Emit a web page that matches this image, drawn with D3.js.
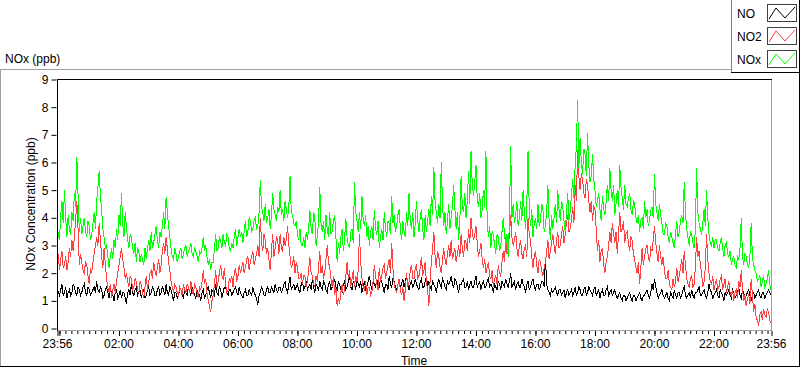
<!DOCTYPE html>
<html>
<head>
<meta charset="utf-8">
<script src="https://cdn.jsdelivr.net/npm/d3@7"></script>
<style>
  html, body { margin: 0; padding: 0; background: #fff; }
  svg { display: block; }
  text { font-family: "Liberation Sans", Arial, sans-serif; font-size: 12px; fill: #000; }
</style>
</head>
<body>
<svg id="chart" width="800" height="369"></svg>
<script>
// ---- Data ----
// "...Values" arrays: samples every 5 min starting 23:56 (previous day).
// "...Half" arrays: samples taken half-way (2.5 min) after each of those.
const seriesNames = ["NO", "NO2", "NOx"];
const seriesColors = ["#000000", "#ff4040", "#00ff00"];
const startClock = [23, 56];
const stepMinutes = 5;
const yTickValues = [0, 1, 2, 3, 4, 5, 6, 7, 8, 9];
const xLabelTimes = ["23:56", "02:00", "04:00", "06:00", "08:00", "10:00", "12:00",
                     "14:00", "16:00", "18:00", "20:00", "22:00", "23:56"];

const noValues = [
1.5,1.2,1.6,1.3,1.1,1.4,1.3,1.5,1.2,1.4,
1.3,1.6,1.2,1.4,1.3,1.5,1.7,1.3,1.4,1.2,
1.5,1.1,1.3,1.0,1.4,1.2,1.1,1.3,0.9,1.4,
1.6,1.2,1.5,1.3,1.1,1.4,1.2,1.5,1.3,1.4,
1.2,1.5,1.3,1.4,1.6,1.2,1.4,1.0,1.3,1.2,
1.4,1.1,1.3,1.5,1.2,1.4,1.1,1.3,1.0,1.4,
1.2,1.5,1.1,1.3,1.6,1.2,1.4,1.3,1.5,1.2,
1.4,1.3,1.5,1.2,1.3,1.1,1.4,1.2,1.3,1.5,
1.2,0.85,1.3,1.4,1.2,1.5,1.3,1.4,1.6,1.3,
1.5,1.4,1.7,1.3,1.85,1.5,1.4,1.6,1.3,1.7,
1.5,1.4,1.6,1.8,1.3,1.5,1.7,1.4,1.6,1.3,
1.7,1.5,1.8,1.4,1.6,1.3,1.7,1.5,1.9,1.4,
1.6,1.8,1.5,1.3,1.7,1.5,1.9,1.4,1.6,1.8,
1.5,1.7,1.3,1.6,1.9,1.5,1.7,1.4,1.8,1.6,
1.5,1.9,1.4,1.7,1.6,1.6,1.4,1.8,1.5,1.9,
1.7,1.4,1.6,1.3,1.8,1.5,1.7,1.4,1.6,1.9,
1.5,1.7,1.3,1.6,1.8,1.5,1.4,1.7,1.5,1.9,
1.6,1.4,1.7,1.5,1.8,1.6,1.3,1.5,1.7,1.4,
1.6,1.8,1.5,2.0,1.6,1.4,1.7,1.5,1.6,1.3,
1.7,1.5,1.8,1.4,1.6,1.5,1.7,2.6,1.4,1.2,
1.3,1.5,1.2,1.4,1.3,1.1,1.4,1.3,1.2,1.5,
1.3,1.4,1.2,1.5,1.3,1.4,1.2,1.5,1.3,1.1,
1.4,1.2,1.5,1.3,1.2,1.4,1.1,1.3,1.0,1.2,
1.1,1.3,1.0,1.2,1.1,1.3,1.0,1.2,1.4,1.1,
1.6,1.8,1.3,1.2,1.4,1.1,1.3,1.0,1.2,1.4,
1.1,1.3,1.2,1.5,1.1,1.3,1.4,1.1,1.3,1.5,
1.2,1.4,1.1,1.6,1.3,1.2,1.4,1.1,1.3,1.0,
1.2,1.4,1.1,1.3,1.2,1.5,1.1,1.3,1.2,1.4,
1.0,1.3,1.2,1.4,1.1,1.3,1.2,1.4,1.2
];
const noHalf = [
1.3,1.4,1.2,1.5,1.3,1.2,1.6,1.3,1.5,1.2,
1.5,1.3,1.5,1.2,1.4,1.3,1.4,1.5,1.1,1.4,
1.3,1.4,1.2,1.3,1.1,1.4,1.3,1.1,1.3,1.2,
1.3,1.4,1.2,1.4,1.3,1.1,1.4,1.2,1.5,1.2,
1.4,1.2,1.5,1.2,1.3,1.5,1.2,1.3,1.1,1.4,
1.2,1.4,1.2,1.3,1.5,1.2,1.4,1.2,1.3,1.1,
1.4,1.3,1.4,1.2,1.3,1.5,1.1,1.5,1.3,1.4,
1.2,1.4,1.3,1.5,1.2,1.3,1.2,1.4,1.2,1.3,
1.1,1.2,1.5,1.2,1.4,1.3,1.5,1.3,1.4,1.5,
1.3,1.6,1.4,1.6,1.4,1.6,1.5,1.4,1.6,1.4,
1.7,1.5,1.4,1.5,1.6,1.4,1.5,1.7,1.4,1.6,
1.4,1.6,1.5,1.7,1.4,1.6,1.4,1.7,1.5,1.7,
1.4,1.6,1.7,1.5,1.4,1.7,1.6,1.7,1.5,1.5,
1.8,1.5,1.6,1.4,1.6,1.8,1.5,1.6,1.5,1.8,
1.7,1.6,1.6,1.5,1.8,1.5,1.7,1.5,1.7,1.5,
1.5,1.7,1.5,1.6,1.6,1.8,1.5,1.7,1.7,1.6,
1.8,1.5,1.6,1.7,1.5,1.7,1.6,1.5,1.7,1.5,
1.7,1.6,1.5,1.7,1.5,1.5,1.6,1.4,1.6,1.7,
1.5,1.6,1.7,1.5,1.7,1.6,1.5,1.8,1.5,1.6,
1.4,1.7,1.5,1.6,1.4,1.7,1.5,1.6,1.3,1.4,
1.4,1.3,1.4,1.2,1.4,1.3,1.2,1.4,1.3,1.2,
1.5,1.2,1.4,1.2,1.5,1.3,1.4,1.2,1.4,1.3,
1.2,1.4,1.2,1.4,1.3,1.2,1.2,1.1,1.2,1.0,
1.2,1.1,1.2,1.0,1.2,1.1,1.2,1.3,1.2,1.3,
1.4,1.5,1.1,1.3,1.2,1.2,1.1,1.3,1.1,1.2,
1.3,1.1,1.4,1.2,1.2,1.1,1.2,1.3,1.4,1.2,
1.3,1.2,1.3,1.4,1.1,1.3,1.2,1.4,1.2,1.3,
1.3,1.2,1.4,1.1,1.3,1.2,1.4,1.1,1.3,1.2,
1.2,1.1,1.3,1.2,1.3,1.1,1.3,1.3
];

const no2Values = [
2.4,2.1,2.8,2.3,2.1,2.9,3.2,3.3,4.6,2.3,
2.4,2.0,2.3,1.6,2.0,2.7,3.3,3.8,2.6,2.9,
1.8,1.3,1.1,1.6,1.7,2.3,2.9,2.2,2.0,1.5,
1.8,1.5,1.7,1.3,1.6,1.1,1.9,1.7,2.1,2.4,
1.9,2.5,2.3,3.1,3.3,2.4,1.7,1.3,1.5,1.2,
1.4,1.6,1.3,1.5,1.7,1.2,1.5,1.1,1.4,2.1,
1.8,1.0,0.6,1.2,2.1,1.7,2.3,1.8,1.6,1.4,
1.7,1.5,2.2,1.9,2.0,2.4,2.2,2.6,2.4,2.8,
2.5,3.0,4.0,2.8,3.2,2.9,2.1,3.4,2.9,3.2,
3.4,2.8,3.0,3.7,2.6,2.3,2.0,2.2,1.8,1.6,
1.9,1.7,2.6,1.9,1.5,1.7,2.8,2.3,2.0,3.0,
2.2,1.5,1.2,0.8,0.9,1.6,1.4,2.4,2.1,1.8,
1.5,1.7,3.4,1.8,1.4,1.2,1.5,1.3,2.3,1.6,
2.2,1.9,2.3,2.0,2.5,3.1,1.6,1.3,1.8,1.2,
1.0,2.0,1.7,2.3,1.8,2.3,1.9,2.6,2.1,1.7,
0.8,2.4,3.5,2.2,2.6,2.0,2.9,2.3,3.0,3.2,
2.7,2.4,3.0,3.4,2.6,3.1,3.6,4.0,3.2,3.7,
2.6,3.1,2.2,2.0,2.4,1.8,1.5,1.9,2.3,1.9,
2.8,3.3,2.9,4.1,3.0,3.5,2.6,3.2,2.5,3.0,
4.0,3.2,2.2,2.8,2.0,2.4,1.9,2.4,3.2,2.8,
3.4,2.7,3.5,3.0,3.7,3.4,4.1,3.6,4.4,5.2,
6.45,5.0,5.4,4.7,5.2,4.2,3.9,4.3,2.8,2.4,
2.9,2.0,2.6,3.5,3.8,3.1,2.7,4.2,3.6,3.1,
3.5,2.8,3.2,2.5,2.0,1.6,2.9,2.6,3.0,2.4,
2.8,3.7,2.7,3.0,2.3,2.1,1.8,1.6,1.4,1.5,
2.2,1.9,2.5,2.8,1.8,1.5,1.9,1.6,3.3,2.8,
2.0,1.7,3.4,2.0,1.6,1.4,1.8,1.5,1.9,1.6,
1.3,1.7,1.2,1.0,1.4,1.7,2.1,1.0,0.8,1.2,
1.8,0.6,0.4,0.1,0.6,0.7,0.4,0.6,0.2
];
const no2Half = [
2.7,2.5,2.2,2.6,2.4,2.6,2.8,3.9,3.6,2.7,
2.1,2.4,1.9,2.2,2.4,3.0,3.0,3.2,2.2,2.3,
1.5,1.6,1.4,1.3,2.0,2.6,2.5,1.8,1.7,1.9,
1.4,1.8,1.4,1.7,1.3,1.5,1.4,2.0,1.8,2.1,
2.2,2.0,2.8,2.7,2.9,2.1,1.5,1.6,1.3,1.5,
1.2,1.4,1.6,1.3,1.4,1.6,1.3,1.5,1.7,1.6,
1.3,0.8,1.0,1.6,1.5,2.0,1.9,2.2,1.3,1.8,
1.9,2.0,1.7,2.3,2.2,2.0,2.5,2.1,2.6,2.3,
2.7,2.6,3.1,3.4,2.7,2.5,2.8,2.6,3.3,2.7,
2.9,3.3,3.2,3.0,2.2,2.6,2.4,1.8,2.0,1.9,
1.5,2.1,2.0,1.6,1.9,2.2,2.0,1.8,2.5,2.4,
1.8,1.9,1.5,1.1,1.3,1.2,1.9,1.8,1.5,2.1,
1.9,2.1,2.4,1.5,1.7,1.5,1.2,1.7,1.9,1.4,
1.7,2.2,1.8,2.3,2.0,2.2,1.4,1.6,1.4,1.5,
1.4,1.5,2.1,1.8,2.2,1.8,2.2,1.9,2.4,1.4,
1.7,2.9,2.6,2.8,2.2,2.5,2.5,2.7,2.6,2.5,
2.9,2.7,2.6,2.9,3.2,2.8,3.1,3.5,3.4,3.1,
2.8,2.5,2.5,2.2,1.9,2.1,1.8,1.6,2.0,2.4,
2.4,2.7,3.4,3.3,3.2,2.9,3.0,2.7,2.9,2.6,
3.4,2.6,2.6,2.3,2.5,2.1,2.2,2.8,2.5,3.1,
3.0,3.2,2.9,3.4,3.1,3.8,3.5,3.9,3.8,4.6,
5.5,5.6,4.9,5.4,4.6,4.6,4.4,3.6,3.2,2.8,
2.3,2.4,3.0,3.1,3.4,3.5,3.4,3.5,3.9,3.4,
3.1,3.3,2.7,2.2,2.4,2.2,2.3,2.9,2.6,2.9,
3.2,3.1,2.4,2.6,2.6,1.8,2.1,1.5,1.8,1.7,
1.7,2.2,2.0,2.3,1.6,1.8,1.5,2.2,2.6,2.3,
1.5,2.2,2.5,1.7,1.9,1.6,1.4,1.8,1.4,1.8,
1.5,1.3,1.4,1.3,1.1,1.5,1.4,1.2,1.1,0.9,
1.2,0.9,0.3,0.5,0.3,0.5,0.7,0.3
];

const noxValues = [
3.9,3.2,4.6,5.0,3.3,3.6,4.2,4.9,6.2,3.5,
3.4,4.0,3.3,3.7,3.4,4.2,4.6,5.7,4.3,3.3,
3.0,2.2,2.9,3.2,3.6,4.1,4.9,3.3,3.7,2.9,
3.3,2.7,2.4,2.8,2.7,2.3,2.5,3.2,3.5,3.1,
3.7,2.9,3.3,4.2,4.75,3.7,2.9,2.5,2.7,2.6,
2.9,2.7,3.0,2.8,3.1,2.6,2.8,2.4,2.7,3.3,
3.0,2.3,2.1,2.4,3.4,2.9,3.2,3.4,3.0,3.3,
2.8,2.9,3.6,3.3,3.3,3.1,3.9,3.5,3.9,3.6,
4.0,3.7,5.35,4.2,4.5,4.0,3.6,4.9,4.1,4.4,
5.0,4.3,4.6,4.0,5.5,4.1,3.7,3.4,3.6,3.0,
2.9,3.2,4.3,3.4,4.0,3.3,5.1,3.5,3.2,3.6,
4.2,3.5,4.1,2.4,2.7,3.6,3.2,3.3,2.9,3.6,
5.3,3.9,4.2,4.8,3.7,3.3,3.0,3.7,4.3,3.4,
2.9,3.6,4.2,3.3,3.8,4.8,4.1,3.7,4.3,3.2,
3.5,4.2,4.9,3.6,3.3,4.6,3.5,4.3,3.2,3.5,
4.3,4.8,5.85,4.2,4.5,6.0,3.7,3.4,4.5,4.0,
5.2,3.6,3.2,5.5,4.2,4.0,5.7,6.4,4.8,5.9,
4.4,4.0,5.0,6.4,3.3,2.9,3.4,2.7,3.3,3.0,
4.0,3.0,2.6,6.6,4.5,4.1,3.7,4.6,5.0,3.6,
6.4,3.7,3.3,4.0,4.5,3.9,4.3,3.7,5.2,3.2,
3.6,4.5,5.0,3.9,4.4,3.5,4.9,4.2,5.4,5.9,
8.25,6.9,5.6,6.3,7.05,5.3,6.3,5.0,4.6,4.3,
4.8,4.1,5.2,5.8,4.6,4.1,5.0,5.9,4.7,5.2,
4.4,4.9,4.1,4.5,3.8,3.5,4.0,4.6,4.3,3.9,
4.4,5.6,4.2,4.5,3.8,3.4,3.7,3.1,3.3,2.9,
3.9,3.5,4.1,5.3,3.6,3.0,3.4,2.9,5.8,3.8,
3.4,4.3,5.0,3.4,3.0,2.9,3.2,2.8,3.3,2.6,
3.1,2.6,2.3,2.6,2.2,2.5,4.0,2.3,2.6,2.2,
3.8,2.3,2.0,1.8,1.5,1.9,1.6,2.1,1.4
];
const noxHalf = [
3.4,4.1,3.8,4.0,4.1,3.4,3.9,4.4,4.8,4.0,
3.7,3.5,3.9,3.2,3.8,3.6,5.1,4.8,3.6,2.9,
2.6,2.6,2.5,2.9,3.2,3.7,3.8,4.2,3.2,3.4,
2.9,3.1,2.9,2.4,2.5,2.9,2.9,2.8,2.9,3.4,
3.2,3.5,3.7,3.6,4.2,3.3,2.6,2.9,2.4,2.8,
2.5,2.9,2.6,2.9,2.7,2.9,2.6,2.8,2.9,2.8,
2.6,2.5,2.4,2.9,2.8,3.3,2.9,3.1,3.4,2.9,
3.1,3.3,3.0,3.6,3.5,3.5,3.3,4.0,3.5,3.9,
3.6,4.2,4.4,3.9,3.8,4.3,4.1,4.3,3.9,4.2,
4.1,3.9,4.3,4.4,4.2,3.8,3.9,3.2,3.0,3.3,
3.5,3.6,3.6,4.2,3.0,3.9,3.8,3.9,4.1,3.3,
3.4,3.9,3.3,3.1,3.3,2.8,4.0,3.0,3.5,3.1,
4.2,3.5,3.6,3.9,4.1,3.7,3.5,3.2,3.6,3.9,
3.3,3.2,3.6,3.9,3.4,3.8,3.5,4.1,3.6,3.9,
3.3,3.7,3.9,4.2,3.8,3.9,4.0,3.6,4.1,3.9,
3.7,4.1,4.6,3.8,4.0,4.5,4.2,3.9,3.6,4.4,
4.3,4.2,3.9,4.4,4.9,4.6,4.5,5.2,5.3,4.7,
4.9,4.3,4.4,4.0,3.7,3.5,3.0,3.4,2.8,3.5,
3.4,3.4,3.9,4.0,3.8,4.6,4.0,3.9,4.2,4.5,
4.3,4.3,3.8,3.6,3.7,4.5,3.5,4.2,3.9,4.1,
4.0,3.8,4.3,4.6,3.9,4.2,3.9,4.8,4.7,6.6,
5.8,6.0,6.5,5.5,5.9,5.5,5.4,4.4,4.9,3.9,
4.3,4.6,4.6,5.0,5.2,4.5,4.4,5.1,4.3,4.5,
4.7,4.3,4.6,4.0,4.1,3.9,3.6,4.0,3.7,4.3,
4.0,4.5,3.9,4.1,3.4,3.8,3.3,3.5,3.1,3.4,
3.3,3.9,3.8,4.2,3.3,3.5,3.1,3.6,4.2,3.6,
3.8,3.7,4.0,3.1,3.3,3.2,2.9,3.1,2.9,3.0,
2.7,2.8,2.5,2.3,2.6,2.9,2.6,2.7,2.3,2.6,
2.6,2.1,1.7,1.9,1.7,1.5,1.8,1.6
];

const seriesMain = [noValues, no2Values, noxValues];
const seriesHalf = [noHalf, no2Half, noxHalf];

// ---- Layout ----
const svg = d3.select("#chart");
const plot = { left: 57, right: 771, top: 79, bottom: 330 };

const t0 = new Date(2000, 0, 1, startClock[0], startClock[1]);
const t1 = d3.timeDay.offset(t0, 1);
const at = (i, half) => new Date(t0.getTime() + (i * stepMinutes + (half ? stepMinutes / 2 : 0)) * 60000);

// merge the two sample sets in time order
const seriesPoints = seriesMain.map((main, k) => {
  const half = seriesHalf[k], pts = [];
  main.forEach((v, i) => {
    pts.push({ t: at(i, false), v: v });
    if (i < half.length) pts.push({ t: at(i, true), v: half[i] });
  });
  return pts;
});

const x = d3.scaleTime().domain([t0, t1]).range([plot.left, plot.right]);
const y = d3.scaleLinear().domain([0, 9]).range([328.5, 79.5]);

// Outer frame
svg.append("line").attr("x1", 0).attr("x2", 731).attr("y1", 69.5).attr("y2", 69.5).attr("stroke", "#a0a0a0");
svg.append("line").attr("x1", 0.5).attr("x2", 0.5).attr("y1", 69.5).attr("y2", 367).attr("stroke", "#a0a0a0");
svg.append("line").attr("x1", 0).attr("x2", 800).attr("y1", 366.5).attr("y2", 366.5).attr("stroke", "#000");
svg.append("line").attr("x1", 799.5).attr("x2", 799.5).attr("y1", 69.5).attr("y2", 367).attr("stroke", "#000");

svg.append("text").attr("x", 5).attr("y", 63).text("NOx (ppb)");

svg.append("rect").attr("x", plot.left).attr("y", plot.top)
  .attr("width", plot.right - plot.left).attr("height", plot.bottom - plot.top).attr("fill", "#fff");

svg.append("clipPath").attr("id", "clip").append("rect")
  .attr("x", plot.left + 1).attr("y", plot.top + 1)
  .attr("width", plot.right - plot.left - 1).attr("height", plot.bottom - plot.top - 1);

const line = d3.line().x(d => x(d.t)).y(d => y(d.v));
const gLines = svg.append("g").attr("clip-path", "url(#clip)");
seriesPoints.forEach((pts, k) => {
  gLines.append("path").datum(pts)
    .attr("d", line)
    .attr("fill", "none")
    .attr("stroke", seriesColors[k])
    .attr("stroke-width", 1)
    .attr("shape-rendering", "crispEdges");
});

// Plot frame
svg.append("line").attr("x1", plot.left).attr("x2", plot.right + 1).attr("y1", plot.top + 0.5).attr("y2", plot.top + 0.5).attr("stroke", "#000");
svg.append("line").attr("x1", plot.left + 0.5).attr("x2", plot.left + 0.5).attr("y1", plot.top).attr("y2", plot.bottom + 1).attr("stroke", "#000");
svg.append("line").attr("x1", plot.left + 1).attr("x2", plot.right + 1).attr("y1", plot.bottom + 0.5).attr("y2", plot.bottom + 0.5).attr("stroke", "#a0a0a0");
svg.append("line").attr("x1", plot.right + 0.5).attr("x2", plot.right + 0.5).attr("y1", plot.top + 1).attr("y2", plot.bottom + 1).attr("stroke", "#a0a0a0");

// Y axis
const yAxis = d3.axisLeft(y).tickValues(yTickValues).tickSize(5).tickPadding(3).tickFormat(d3.format("d"));
const gy = svg.append("g").attr("transform", `translate(${plot.left - 0.5},0)`).call(yAxis);
gy.select(".domain").remove();
gy.selectAll(".tick line").attr("stroke", "#000");
gy.selectAll(".tick text").attr("font-family", "Liberation Sans, Arial, sans-serif").attr("font-size", 12).attr("fill", "#000");

// X axis
const majorTimes = [t0].concat(d3.timeHour.every(2).range(d3.timeMinute.offset(t0, 1), t1)).concat([t1]);
const minorTimes = d3.timeMinute.every(12).range(d3.timeMinute.offset(t0, 1), t1);
const fmt = d3.timeFormat("%H:%M");
const labelFor = (d, i) => {
  const s = fmt(d);
  if (i === 0 || i === majorTimes.length - 1) return s;
  return xLabelTimes.indexOf(s) >= 0 ? s : "";
};

const gxMinor = svg.append("g").attr("transform", `translate(0.5,${plot.bottom + 1})`)
  .call(d3.axisBottom(x).tickValues(minorTimes).tickSize(3).tickFormat(""));
gxMinor.select(".domain").remove();
gxMinor.selectAll(".tick line").attr("stroke", "#000");

const gx = svg.append("g").attr("transform", `translate(0,${plot.bottom + 1})`)
  .call(d3.axisBottom(x).tickValues(majorTimes).tickSize(5).tickPadding(3).tickFormat(labelFor));
gx.select(".domain").remove();
gx.selectAll(".tick line").attr("stroke", "#000").attr("transform", "translate(0.5,0)");
gx.selectAll(".tick text").attr("font-family", "Liberation Sans, Arial, sans-serif").attr("font-size", 12).attr("fill", "#000");

// Axis titles
svg.append("text").attr("x", 414).attr("y", 365).attr("text-anchor", "middle").text("Time");
svg.append("text").attr("transform", "translate(35,204) rotate(-90)").attr("text-anchor", "middle")
  .text("NOx Concentration (ppb)");

// Legend
const lg = svg.append("g");
lg.append("rect").attr("x", 731).attr("y", 0).attr("width", 69).attr("height", 73).attr("fill", "#fff");
lg.append("line").attr("x1", 731.5).attr("x2", 731.5).attr("y1", 0).attr("y2", 72).attr("stroke", "#808080");
lg.append("line").attr("x1", 731).attr("x2", 800).attr("y1", 72.5).attr("y2", 72.5).attr("stroke", "#000");
lg.append("line").attr("x1", 799.5).attr("x2", 799.5).attr("y1", 0).attr("y2", 73).attr("stroke", "#000");
seriesNames.forEach((name, k) => {
  const top = 4 + k * 23;
  lg.append("text").attr("x", 737).attr("y", top + 14).text(name);
  lg.append("rect").attr("x", 767.5).attr("y", top + 0.5).attr("width", 29).attr("height", 17)
    .attr("fill", "#fff").attr("stroke", "#404040");
  lg.append("path")
    .attr("d", `M${769},${top + 15} L${776},${top + 4} L${785},${top + 14} L${795},${top + 3}`)
    .attr("fill", "none").attr("stroke", seriesColors[k]).attr("stroke-width", 1);
});
</script>
</body>
</html>
